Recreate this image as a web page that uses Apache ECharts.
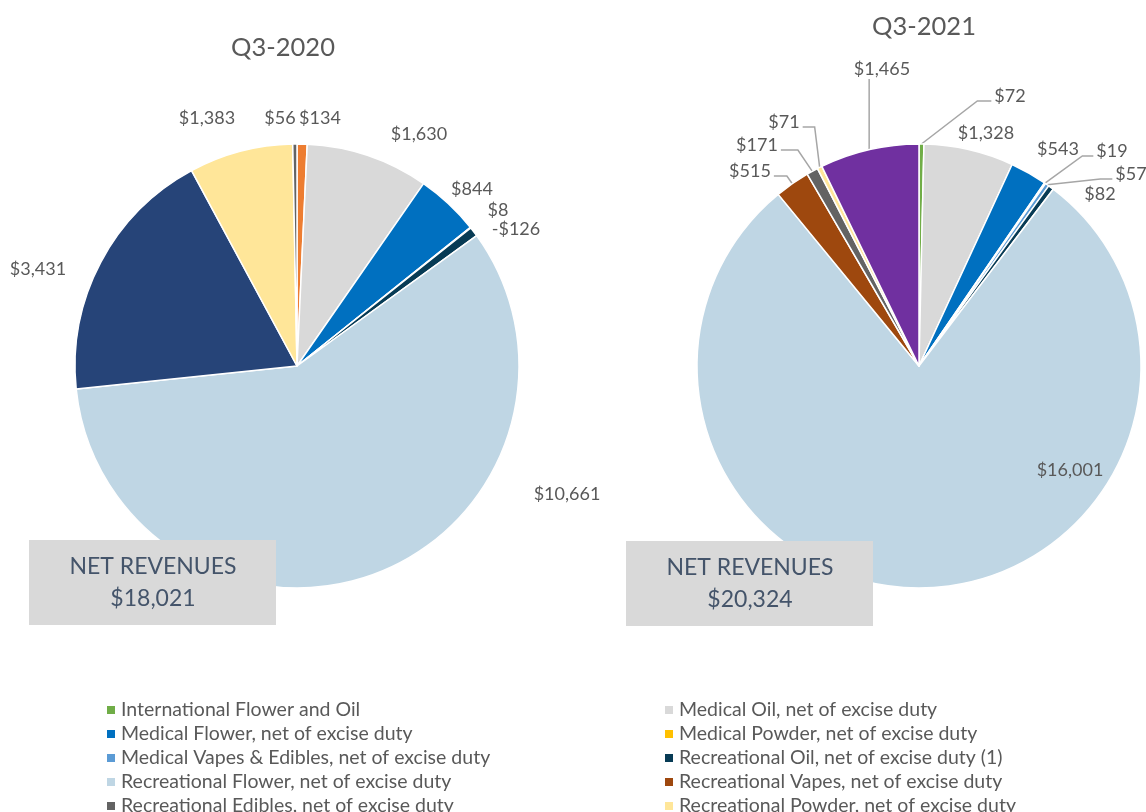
<!DOCTYPE html>
<html>
<head>
<meta charset="utf-8">
<script src="https://cdn.jsdelivr.net/npm/echarts@6/dist/echarts.min.js"></script>
<style>
  html, body { margin: 0; padding: 0; background: #fff; }
  #main { width: 1146px; height: 812px; }
</style>
</head>
<body>
<div id="main"></div>
<script>
// legend categories (two columns, read row by row)
const legendLeft = [
  'International Flower and Oil',
  'Medical Flower, net of excise duty',
  'Medical Vapes & Edibles, net of excise duty',
  'Recreational Flower, net of excise duty',
  'Recreational Edibles, net of excise duty'
];
const legendRight = [
  'Medical Oil, net of excise duty',
  'Medical Powder, net of excise duty',
  'Recreational Oil, net of excise duty (1)',
  'Recreational Vapes, net of excise duty',
  'Recreational Powder, net of excise duty'
];

// Q3-2020 slices, clockwise from 12 o'clock
const names2020 = [
  'International Flower and Oil',
  'Medical Oil, net of excise duty',
  'Medical Flower, net of excise duty',
  'Medical Vapes & Edibles, net of excise duty',
  'Recreational Oil, net of excise duty (1)',
  'Recreational Flower, net of excise duty',
  'Recreational Vapes & Edibles',
  'Recreational Powder, net of excise duty',
  'Recreational Edibles, net of excise duty'
];
const values2020 = [134, 1630, 844, 8, -126, 10661, 3431, 1383, 56];

// Q3-2021 slices, clockwise from 12 o'clock
const names2021 = [
  'International Flower and Oil',
  'Medical Oil, net of excise duty',
  'Medical Flower, net of excise duty',
  'Medical Powder, net of excise duty',
  'Medical Vapes & Edibles, net of excise duty',
  'Recreational Oil, net of excise duty (1)',
  'Recreational Flower, net of excise duty',
  'Recreational Vapes, net of excise duty',
  'Recreational Edibles, net of excise duty',
  'Recreational Powder, net of excise duty',
  'Recreational Vapes & Edibles'
];
const values2021 = [72, 1328, 543, 19, 57, 82, 16001, 515, 171, 71, 1465];

const periods = ['Q3-2020', 'Q3-2021'];
const netRevenues = [18021, 20324];

// styles
const colorOf = {
  'International Flower and Oil': '#70AD47',
  'Medical Oil, net of excise duty': '#D9D9D9',
  'Medical Flower, net of excise duty': '#0070C0',
  'Medical Powder, net of excise duty': '#FFC000',
  'Medical Vapes & Edibles, net of excise duty': '#5B9BD5',
  'Recreational Oil, net of excise duty (1)': '#073B55',
  'Recreational Flower, net of excise duty': '#BFD6E4',
  'Recreational Vapes, net of excise duty': '#9E480E',
  'Recreational Edibles, net of excise duty': '#636363',
  'Recreational Powder, net of excise duty': '#FFE699',
  'Recreational Vapes & Edibles': '#7030A0'
};
const colors2020 = ['#ED7D31', '#D9D9D9', '#0070C0', '#5B9BD5', '#073B55', '#BFD6E4', '#264478', '#FFE699', '#636363'];
const colors2021 = names2021.map(n => colorOf[n]);

const FONT = 'Lato';
const GREY = '#595959';

// label placement (label centres) and leader lines
const labelPos2020 = [[320, 118], [419, 134], [472, 189], [498, 210], [516, 229], [567, 494], [38, 269], [207, 118], [280, 118]];
const labelPos2021 = [[1010, 96], [986, 133], [1058, 149], [1112, 151], [1131, 174], [1100, 194], [1070, 470], [750, 171], [757, 145], [784, 122], [882, 69]];
// 'r' = label to the right of its line, 'l' = to the left, 'u' = line comes up from below
const leader2021 = { 0: ['r', 14], 3: ['r', 11], 4: ['r', 12], 7: ['l', 13], 8: ['l', 17], 9: ['l', 12], 10: ['u', 0] };

function money(v) {
  return (v < 0 ? '-$' : '$') + Math.abs(v).toLocaleString('en-US');
}

function makeLayout(pos, leaders) {
  return function (p) {
    const c = pos[p.dataIndex];
    const out = { x: c[0], y: c[1], align: 'center', verticalAlign: 'middle' };
    const ld = leaders[p.dataIndex];
    if (ld && p.labelLinePoints) {
      const edge = p.labelLinePoints[0];
      const w = p.labelRect.width, h = p.labelRect.height;
      let end, elbow;
      if (ld[0] === 'r') {
        end = [c[0] - w / 2 - 3, c[1] + 5];
        elbow = [end[0] - ld[1], end[1]];
      } else if (ld[0] === 'l') {
        end = [c[0] + w / 2 + 3, c[1] + 5];
        elbow = [end[0] + ld[1], end[1]];
      } else {
        end = [edge[0], c[1] + h / 2 + 1];
        elbow = [edge[0], (edge[1] + end[1]) / 2];
      }
      out.labelLinePoints = [edge, elbow, end];
    }
    return out;
  };
}

function pieSeries(name, names, values, colors, center, pos, leaders) {
  return {
    type: 'pie',
    name: name,
    center: center,
    radius: 222,
    startAngle: 90,
    clockwise: true,
    avoidLabelOverlap: false,
    animation: false,
    itemStyle: { borderColor: '#fff', borderWidth: 1.5 },
    label: {
      show: true,
      position: 'outside',
      fontFamily: FONT,
      fontSize: 18,
      color: GREY,
      formatter: p => money(values[p.dataIndex])
    },
    labelLine: { show: false, lineStyle: { color: '#A6A6A6', width: 1.5 } },
    labelLayout: makeLayout(pos, leaders),
    emphasis: { disabled: true },
    data: names.map((n, i) => ({
      name: n,
      value: Math.abs(values[i]),
      itemStyle: { color: colors[i] },
      labelLine: { show: !!leaders[i] }
    }))
  };
}

function legendBlock(items, left) {
  return {
    orient: 'vertical',
    left: left,
    top: 700,
    height: 130,
    padding: 0,
    itemWidth: 10,
    itemHeight: 10,
    itemGap: 4,
    icon: 'rect',
    selectedMode: false,
    textStyle: { fontFamily: FONT, fontSize: 19.5, color: GREY, lineHeight: 19 },
    data: items.map(n => ({ name: n, itemStyle: { color: colorOf[n] } }))
  };
}

function revenueBox(x, y, total) {
  return [
    { type: 'rect', z: 100, shape: { x: x, y: y, width: 247, height: 85 }, style: { fill: '#D9D9D9' } },
    { type: 'text', z: 101, x: x + 124, y: y + 27, style: { text: 'NET REVENUES', font: '23px ' + FONT, fill: '#44546A', align: 'center', verticalAlign: 'middle' } },
    { type: 'text', z: 101, x: x + 124, y: y + 59, style: { text: money(total), font: '23px ' + FONT, fill: '#44546A', align: 'center', verticalAlign: 'middle' } }
  ];
}

const chart = echarts.init(document.getElementById('main'), null, { renderer: 'canvas' });
chart.setOption({
  backgroundColor: '#fff',
  animation: false,
  title: [
    { text: periods[0], left: 283, top: 35, textAlign: 'center', padding: 0, textStyle: { fontFamily: FONT, fontSize: 25.5, fontWeight: 'normal', color: GREY } },
    { text: periods[1], left: 924, top: 14, textAlign: 'center', padding: 0, textStyle: { fontFamily: FONT, fontSize: 25.5, fontWeight: 'normal', color: GREY } }
  ],
  legend: [legendBlock(legendLeft, 105), legendBlock(legendRight, 663)],
  series: [
    pieSeries(periods[0], names2020, values2020, colors2020, [297, 366], labelPos2020, {}),
    pieSeries(periods[1], names2021, values2021, colors2021, [919, 366], labelPos2021, leader2021)
  ],
  graphic: revenueBox(29, 540, netRevenues[0]).concat(revenueBox(626, 541, netRevenues[1]))
});
</script>
</body>
</html>
